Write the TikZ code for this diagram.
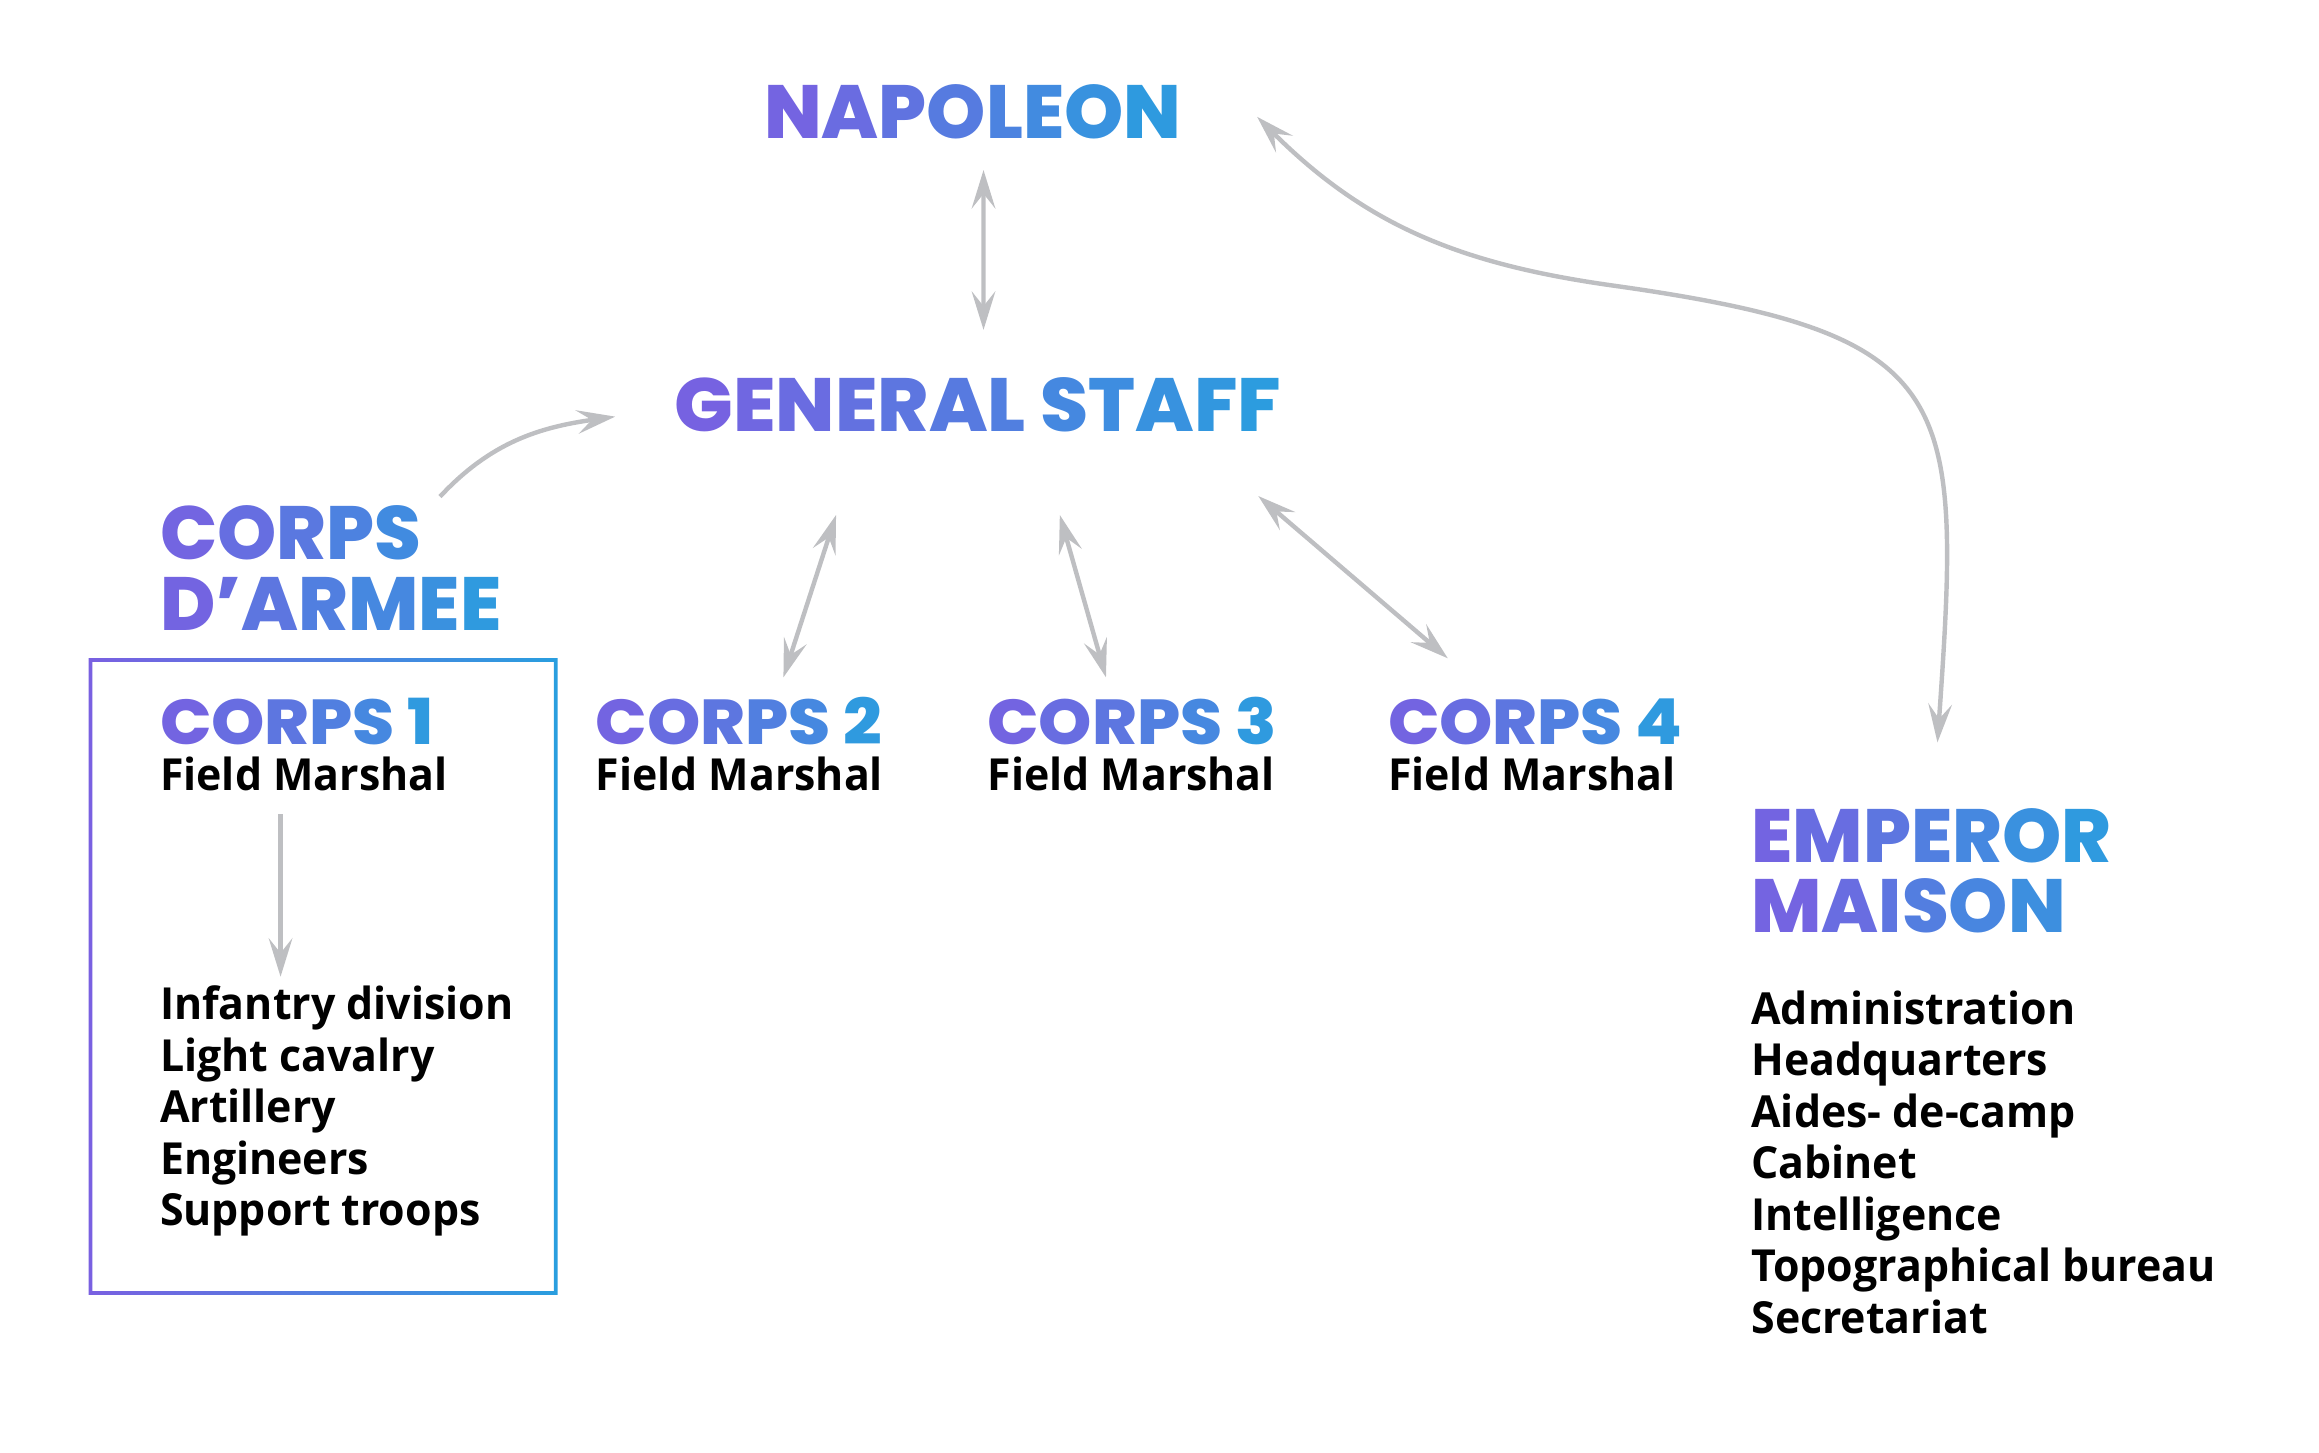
\documentclass[tikz,border=0pt]{standalone}
\usepackage{fontspec}
\usepackage{tikz}
\usetikzlibrary{arrows.meta, positioning}

\IfFontExistsTF{Poppins ExtraBold}
  {\newfontfamily\titlefont{Poppins ExtraBold}[BoldFont=Poppins ExtraBold]}
  {\newfontfamily\titlefont{Poppins}}
\newfontfamily\bodyfont{Open Sans}[FakeStretch=0.97]

\definecolor{nappurple}{RGB}{121,96,225}
\definecolor{napblue}{RGB}{41,158,223}
\definecolor{linkgray}{RGB}{190,191,194}

% letters coloured along a purple -> blue run (#1 and #2 in percent)
\ExplSyntaxOn
\NewDocumentCommand \gradtext { m m m }
  {
    \int_set:Nn \l_tmpa_int { \tl_count:n {#3} }
    \int_zero:N \l_tmpb_int
    \tl_map_inline:nn {#3}
      {
        \color{ napblue ! \fp_eval:n { round( #1 + (#2 - #1) * (\l_tmpb_int + 0.5) / \l_tmpa_int , 1 ) } ! nappurple }
        ##1
        \int_incr:N \l_tmpb_int
      }
  }
\ExplSyntaxOff

\begin{document}
\begin{tikzpicture}[
    headline/.style={inner sep=0pt, anchor=base west, align=left, font=\titlefont\bfseries\fontsize{14.5}{13.5}\selectfont},
    corpsline/.style={headline, font=\titlefont\bfseries\fontsize{12.2}{13}\selectfont\addfontfeature{FakeStretch=1.07}},
    bodytext/.style={inner sep=0pt, anchor=base west, align=left, font=\bodyfont\bfseries\fontsize{8.5}{9.9}\selectfont},
    twoway/.style={draw=linkgray, line width=0.85pt, {Stealth[length=2.6mm, width=1.6mm, inset=1mm]}-{Stealth[length=2.6mm, width=1.6mm, inset=1mm]}},
    oneway/.style={draw=linkgray, line width=0.85pt, -{Stealth[length=2.6mm, width=1.6mm, inset=1mm]}}
]
    \useasboundingbox (0,0) rectangle (15.68,-9.82);

    % Top of the chain
    \node[headline] (nap) at (5.16,-0.935) {\gradtext{0}{100}{NAPOLEON}};
    \node[headline, font=\titlefont\bfseries\fontsize{14.5}{13.5}\selectfont\addfontfeature{FakeStretch=1.03}] (gs) at (4.554,-2.92) {\gradtext{0}{100}{GENERAL~STAFF}};

    % Corps d'armee (base = last line)
    \node[headline] (cda) at (1.075,-4.26) {\gradtext{0}{78}{CORPS}\\\gradtext{0}{100}{D’ARMEE}};

    \node[corpsline] (c1) at (1.075,-5.037) {\gradtext{0}{100}{CORPS~1}};
    \node[corpsline] (c2) at (4.02,-5.037) {\gradtext{0}{100}{CORPS~2}};
    \node[corpsline] (c3) at (6.67,-5.037) {\gradtext{0}{100}{CORPS~3}};
    \node[corpsline] (c4) at (9.378,-5.037) {\gradtext{0}{100}{CORPS~4}};

    \node[below=3.11mm of c1.base west, bodytext] (fm1) {Field Marshal};
    \node[below=3.11mm of c2.base west, bodytext] (fm2) {Field Marshal};
    \node[below=3.11mm of c3.base west, bodytext] (fm3) {Field Marshal};
    \node[below=3.11mm of c4.base west, bodytext] (fm4) {Field Marshal};

    \node[below=29.39mm of fm1.base west, bodytext] (units) {Infantry division\\Light cavalry\\Artillery\\Engineers\\Support troops};

    % Corps 1 frame
    \coordinate (boxnw) at (0.599,-4.45);
    \coordinate (boxse) at (3.77,-8.755);
    \shade[even odd rule, left color=nappurple, right color=napblue]
        (boxnw) rectangle (boxse)
        ([shift={(0.025,-0.025)}]boxnw) rectangle ([shift={(-0.025,0.025)}]boxse);

    % Emperor maison
    \node[headline] (emp) at (11.835,-6.306) {\gradtext{0}{100}{EMPEROR}\\\gradtext{0}{82}{MAISON}};
    \node[below=27.08mm of emp.base west, bodytext] (duties) {Administration\\Headquarters\\Aides- de-camp\\Cabinet\\Intelligence\\Topographical bureau\\Secretariat};

    % Links
    \draw[twoway] ([shift={(1.49,-0.215)}]nap.base west) -- ([shift={(2.096,0.69)}]gs.base west);
    \draw[oneway] ([shift={(1.90,0.902)}]cda.base west) to[out=47, in=188] ([shift={(-0.394,0.103)}]gs.base west);
    \draw[twoway] ([shift={(1.099,-0.562)}]gs.base west) -- ([shift={(1.277,0.457)}]c2.base west);
    \draw[twoway] ([shift={(2.612,-0.562)}]gs.base west) -- ([shift={(0.808,0.457)}]c3.base west);
    \draw[twoway] ([shift={(3.954,-0.434)}]gs.base west) -- ([shift={(0.411,0.586)}]c4.base west);
    \draw[oneway] ([shift={(0.822,-0.157)}]fm1.base west) -- ([shift={(0.822,1.683)}]units.base west);
    \draw[twoway] ([shift={(3.34,0.145)}]nap.base west) to[out=-45, in=172] ++(2.4,-1.14)
        to[out=-8, in=86, looseness=1.6] ([shift={(1.265,1.286)}]emp.base west);

\end{tikzpicture}
\end{document}
